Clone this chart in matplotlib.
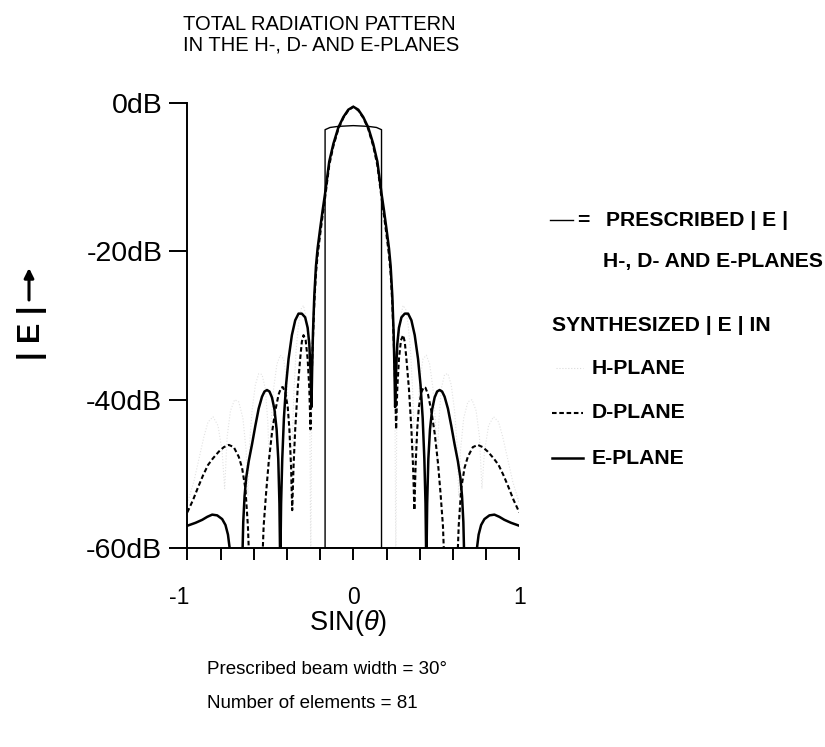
import numpy as np
import matplotlib
matplotlib.use("Agg")
import matplotlib.pyplot as plt
from matplotlib.lines import Line2D
from matplotlib.patches import FancyArrowPatch
from matplotlib.transforms import ScaledTranslation

plt.rcParams['font.family'] = ['Liberation Sans', 'DejaVu Sans']
plt.rcParams['mathtext.fontset'] = 'custom'
plt.rcParams['mathtext.rm'] = 'Liberation Sans'
plt.rcParams['mathtext.it'] = 'Liberation Sans:italic'

W, H = 825, 747

# Patterns are symmetric about broadside, so only sin(theta) >= 0 is listed.
# Values below -60 dB just mark nulls that drop off the bottom of the scale.
e_x = [0, 0.03, 0.06, 0.09, 0.12, 0.145, 0.17, 0.185, 0.2, 0.215, 0.225, 0.235, 0.243, 0.248, 0.252,
       0.258, 0.265, 0.275, 0.29, 0.31, 0.33, 0.35, 0.37, 0.39, 0.405, 0.418, 0.428, 0.435, 0.44,
       0.445, 0.452, 0.462, 0.475, 0.49, 0.505, 0.52, 0.535, 0.55, 0.57, 0.59, 0.61, 0.63, 0.645,
       0.655, 0.663, 0.67,
       0.74, 0.745, 0.755, 0.77, 0.79, 0.82, 0.85, 0.88, 0.91, 0.95, 1.0]
e_db = [-0.5, -0.9, -1.9, -3.3, -5.5, -7.9, -12.2, -14.5, -17.0, -19.6, -22.0, -26.0, -31.0, -36.0, -41.0,
        -36.0, -32.5, -30.3, -28.9, -28.4, -28.4, -29.3, -31.3, -34.5, -38.0, -42.5, -48.0, -54.0, -63.0,
        -54.0, -48.0, -44.0, -41.3, -39.7, -38.9, -38.7, -38.9, -39.6, -41.2, -43.5, -46.0, -48.3, -50.5,
        -53.0, -56.5, -63.0,
        -63.0, -60.0, -58.2, -56.9, -56.1, -55.6, -55.5, -55.8, -56.2, -56.6, -57.0]

d_x = [0, 0.03, 0.06, 0.09, 0.12, 0.145, 0.17, 0.185, 0.2, 0.215, 0.225, 0.235, 0.245, 0.252, 0.258,
       0.265, 0.275, 0.287, 0.30, 0.31, 0.32, 0.335, 0.35, 0.36, 0.368,
       0.375, 0.385, 0.395, 0.41, 0.425, 0.435, 0.45, 0.47, 0.49, 0.51, 0.525, 0.54, 0.55,
       0.625, 0.635, 0.65, 0.67, 0.69, 0.72, 0.75, 0.78, 0.81, 0.845, 0.875, 0.905, 0.935, 0.965, 1.0]
d_db = [-0.5, -1.0, -2.0, -3.5, -5.8, -8.4, -12.8, -15.2, -17.8, -20.5, -23.0, -27.0, -33.0, -38.0, -44.0,
        -38.5, -34.5, -32.0, -31.3, -32.2, -34.5, -38.5, -44.0, -49.0, -54.9,
        -49.0, -44.0, -41.0, -39.0, -38.3, -38.4, -39.3, -41.5, -44.5, -48.5, -52.5, -57.0, -63.0,
        -63.0, -57.0, -52.0, -49.2, -47.7, -46.4, -46.1, -46.4, -47.0, -47.9, -48.8, -50.2, -51.8, -53.5, -55.2]

h_x = [0, 0.03, 0.06, 0.09, 0.12, 0.145, 0.17, 0.19, 0.21, 0.225, 0.237, 0.246, 0.252, 0.256,
       0.262, 0.272, 0.285, 0.30, 0.315, 0.33, 0.345, 0.358, 0.368, 0.375,
       0.385, 0.40, 0.42, 0.44, 0.46, 0.48, 0.495, 0.505,
       0.515, 0.53, 0.55, 0.57, 0.59, 0.61, 0.625, 0.635,
       0.645, 0.665, 0.69, 0.715, 0.74, 0.76, 0.775,
       0.79, 0.815, 0.845, 0.875, 0.90, 0.93, 0.96, 1.0]
h_db = [-0.5, -0.9, -1.9, -3.4, -5.6, -8.2, -12.6, -15.8, -19.5, -23.0, -28.0, -35.0, -45.0, -63.0,
        -42.0, -33.0, -28.8, -27.3, -27.8, -29.8, -33.5, -39.0, -46.0, -52.0,
        -44.0, -37.5, -34.5, -34.0, -35.2, -38.5, -43.0, -49.0,
        -43.0, -38.5, -36.6, -36.5, -38.0, -41.5, -46.0, -53.0,
        -47.0, -42.5, -40.3, -40.0, -41.5, -45.0, -52.0,
        -47.0, -43.5, -42.3, -43.0, -45.0, -48.0, -51.0, -54.0]

# prescribed flat-top mask
presc_x = [-0.17, -0.17, -0.14, -0.09, 0.0, 0.09, 0.14, 0.17, 0.17, -0.17]
presc_db = [-60, -3.6, -3.3, -3.15, -3.05, -3.15, -3.3, -3.6, -60, -60]

ytick_vals = [0, -20, -40, -60]
ytick_text = ['0dB', '-20dB', '-40dB', '-60dB']
xtick_vals = [-1, -0.8, -0.6, -0.4, -0.2, 0, 0.2, 0.4, 0.6, 0.8, 1]
xtick_text = ['-1', '', '', '', '', '0', '', '', '', '', '1']


def mirror(xs, ys):
    xs = np.asarray(xs, dtype=float)
    ys = np.asarray(ys, dtype=float)
    return np.concatenate([-xs[:0:-1], xs]), np.concatenate([ys[:0:-1], ys])


def px(x, y):
    # pixel position -> figure fraction
    return x / W, 1 - y / H


fig = plt.figure(figsize=(W / 100, H / 100), dpi=100)
ax = fig.add_axes([187.3 / W, 1 - 548 / H, 332 / W, 445 / H])

hx, hy = mirror(h_x, h_db)
ax.plot(hx, hy, color='#e2e2e2', lw=0.8, ls=':')
ax.plot(presc_x, presc_db, color='black', lw=1.0)
dx, dy = mirror(d_x, d_db)
ax.plot(dx, dy, color='black', lw=1.5, dashes=(2.2, 1.3))
ex, ey = mirror(e_x, e_db)
ax.plot(ex, ey, color='black', lw=1.8)

ax.set_xlim(-1, 1)
ax.set_ylim(-60, 0)
for side in ('top', 'right'):
    ax.spines[side].set_visible(False)
for side in ('left', 'bottom'):
    ax.spines[side].set_linewidth(1.4)

ax.set_yticks(ytick_vals)
ax.set_yticklabels(ytick_text)
ax.set_xticks(xtick_vals)
ax.set_xticklabels(xtick_text)
ax.tick_params(axis='y', length=13, width=1.4, pad=5, labelsize=20.5)
ax.tick_params(axis='x', length=8.5, width=1.4, pad=19, labelsize=16.5)
# the "-1" sits a little left of its tick
lbl = ax.get_xticklabels()[0]
lbl.set_transform(lbl.get_transform() + ScaledTranslation(-0.08, 0, fig.dpi_scale_trans))

# titles and axis captions
fig.text(*px(183, 24), 'TOTAL RADIATION PATTERN', ha='left', va='center', fontsize=14.5)
fig.text(*px(183, 45), 'IN THE H-, D- AND E-PLANES', ha='left', va='center', fontsize=14.5)
fig.text(*px(32, 333), '| E |', rotation=90, ha='center', va='center',
         fontsize=22, fontweight='bold')
fig.add_artist(FancyArrowPatch(
    px(29, 300), px(29, 268), transform=fig.transFigure, arrowstyle='-|>',
    mutation_scale=14, lw=2.2, color='black', shrinkA=0, shrinkB=0))
fig.text(*px(348, 623), r'SIN($\theta$)', ha='center', va='center', fontsize=19.5)
fig.text(*px(207, 670), 'Prescribed beam width = 30\u00b0', ha='left', va='center', fontsize=13.5)
fig.text(*px(207, 704), 'Number of elements = 81', ha='left', va='center', fontsize=13.5)


# hand-placed key on the right
def key_line(x0, x1, y, **kw):
    (a, b), (c, _) = px(x0, y), px(x1, y)
    fig.add_artist(Line2D([a, c], [b, b], transform=fig.transFigure, color='black', **kw))


lg = dict(ha='left', va='center', fontsize=15.2, fontweight='bold')
key_line(550, 573, 220, lw=1.0)
fig.text(*px(577, 221), '=', **lg)
fig.text(*px(606, 220), 'PRESCRIBED | E |', **lg)
fig.text(*px(603, 262), 'H-, D- AND E-PLANES', **lg)
fig.text(*px(552, 325), 'SYNTHESIZED | E | IN', **lg)
key_line(556, 583, 368, lw=0.8, ls=':', alpha=0.15)
fig.text(*px(592, 368), 'H-PLANE', **lg)
key_line(552, 583, 413, lw=1.5, dashes=(2.2, 1.3))
fig.text(*px(592, 413), 'D-PLANE', **lg)
key_line(552, 583, 458, lw=1.8)
fig.text(*px(592, 458), 'E-PLANE', **lg)

fig.savefig('out.png', dpi=100)
